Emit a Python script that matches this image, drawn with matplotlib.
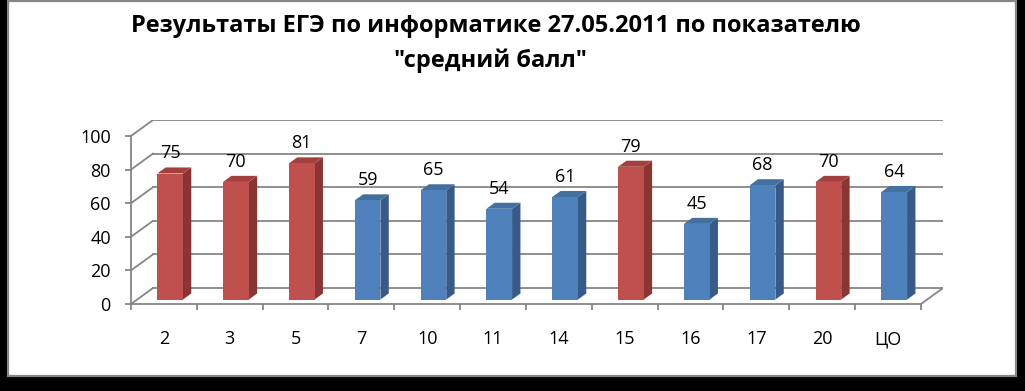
import matplotlib
matplotlib.use("Agg")
import matplotlib.pyplot as plt
from matplotlib.patches import Rectangle, Polygon

plt.rcParams['font.family'] = ['Open Sans', 'DejaVu Sans']

# data
categories = ['2', '3', '5', '7', '10', '11', '14', '15', '16', '17', '20', 'ЦО']
scores = [75, 70, 81, 59, 65, 54, 61, 79, 45, 68, 70, 64]
highlight = [1, 1, 1, 0, 0, 0, 0, 1, 0, 0, 1, 0]
y_ticks = [0, 20, 40, 60, 80, 100]
title_1 = 'Результаты ЕГЭ по информатике 27.05.2011 по показателю'
title_2 = '"средний балл"'

# colours (front, side, top)
RED = ('#C0504D', '#8A3533', '#A3403D')
BLUE = ('#4F81BD', '#375A88', '#43709F')
GRID = '#868686'

W, H = 1025, 391
fig = plt.figure(figsize=(W / 100, H / 100), dpi=100, facecolor='black')

# white panel with grey frame, black shadow around it
fig.patches.append(Rectangle((8 / W, 15 / H), 1008 / W, 376 / H - 0.002,
                             transform=fig.transFigure, facecolor='white',
                             edgecolor='#858585', linewidth=1.6, zorder=-5))

# pseudo 3d depth in data units
DX = 22 / 65.75
DY = 9.5
n = len(categories)
ax = fig.add_axes([131 / W, (H - 304) / H, 812 / W, 184 / H])
ax.set_xlim(0, n + DX)
ax.set_ylim(0, 100 + DY)
ax.patch.set_alpha(0)

# back wall grid and left wall diagonals
for v in y_ticks:
    ax.plot([DX, n + DX], [v + DY, v + DY], color=GRID, lw=1.3, zorder=1)
    ax.plot([0, DX], [v, v + DY], color=GRID, lw=1.3, zorder=1)
# floor right edge
ax.plot([n, n + DX], [0, DY], color=GRID, lw=1.3, zorder=1)

# bars
w = 0.39
f1, f2 = 0.28, 0.66
ddx, ddy = (f2 - f1) * DX, (f2 - f1) * DY
for i, (v, h) in enumerate(zip(scores, highlight)):
    front, side, top = RED if h else BLUE
    x0 = i + (1 - w) / 2 + f1 * DX
    x1 = x0 + w
    y0 = f1 * DY
    y1 = v + y0
    ax.add_patch(Polygon([(x1, y0), (x1 + ddx, y0 + ddy), (x1 + ddx, y1 + ddy), (x1, y1)],
                         closed=True, facecolor=side, edgecolor='none', zorder=3))
    ax.add_patch(Polygon([(x0, y1), (x1, y1), (x1 + ddx, y1 + ddy), (x0 + ddx, y1 + ddy)],
                         closed=True, facecolor=top, edgecolor='none', zorder=3))
    ax.add_patch(Rectangle((x0, y0), w, v, facecolor=front, edgecolor='none', zorder=4))
    ax.annotate(str(v), ((x0 + x1) / 2, y1), xytext=(0, 11), textcoords='offset points',
                ha='center', va='baseline', fontsize=13, color='black', zorder=5)

# axes
for s in ('top', 'right'):
    ax.spines[s].set_visible(False)
ax.spines['left'].set_bounds(0, 100)
ax.spines['bottom'].set_bounds(0, n)
for s in ('left', 'bottom'):
    ax.spines[s].set_color(GRID)
    ax.spines[s].set_linewidth(1.3)
    ax.spines[s].set_zorder(2)

ax.set_yticks(y_ticks)
ax.set_yticklabels([str(t) for t in y_ticks])
ax.tick_params(axis='y', length=4.5, width=1.3, color=GRID, pad=10, labelsize=13)
ax.set_xticks(range(n + 1))
ax.set_xticklabels([])
ax.tick_params(axis='x', which='major', length=4.5, width=1.3, color=GRID, direction='out')
ax.set_xticks([i + 0.5 for i in range(n)], minor=True)
ax.set_xticklabels(categories, minor=True)
ax.tick_params(axis='x', which='minor', length=0, pad=19, labelsize=13)

fig.text(496 / W, 1 - 32 / H, title_1, ha='center', va='baseline',
         fontsize=17, fontweight='bold')
fig.text(490 / W, 1 - 67 / H, title_2, ha='center', va='baseline',
         fontsize=17, fontweight='bold')

fig.savefig('out.png', dpi=100, facecolor='black')
